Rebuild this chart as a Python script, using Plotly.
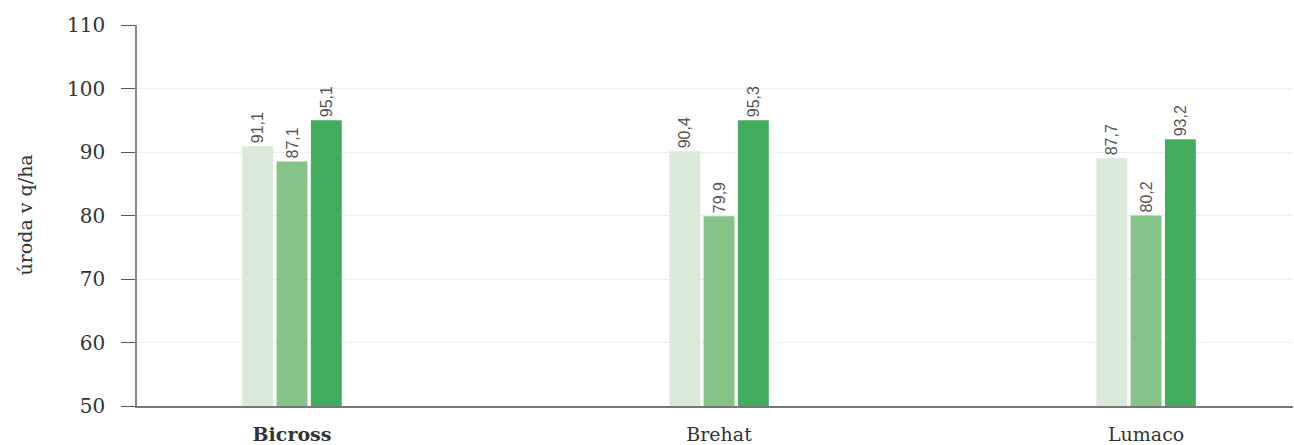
import plotly.graph_objects as go

categories = ["Bicross", "Brehat", "Lumaco"]
tick_labels = ["<b>Bicross</b>", "Brehat", "Lumaco"]

series_names = ["A", "B", "C"]
# bar heights as drawn in the picture
values_a = [90.9, 90.1, 89.0]
values_b = [88.5, 79.9, 80.0]
values_c = [95.0, 95.0, 92.0]
# value labels as printed above bars
labels_a = ["91,1", "90,4", "87,7"]
labels_b = ["87,1", "79,9", "80,2"]
labels_c = ["95,1", "95,3", "93,2"]

colors = ["#d9ebd8", "#86c388", "#43ad5e"]

y_ticks = [50, 60, 70, 80, 90, 100, 110]
y_title = "úroda v q/ha"

W, H = 1294, 445
ML, MR, MT, MB = 137, 1, 25, 39

fig = go.Figure()
for name, vals, labs, col in zip(series_names, [values_a, values_b, values_c],
                                 [labels_a, labels_b, labels_c], colors):
    fig.add_trace(go.Bar(
        x=categories, y=vals, name=name, text=labs,
        textposition="outside", textangle=-90, constraintext="none",
        cliponaxis=False,
        textfont=dict(family="Liberation Sans, Arial, sans-serif", size=16, color="#555"),
        marker=dict(color=col, line=dict(width=0)),
    ))

fig.update_layout(
    width=W, height=H,
    margin=dict(l=ML, r=MR, t=MT, b=MB, autoexpand=False),
    paper_bgcolor="white", plot_bgcolor="white",
    barmode="group", bargap=0.759, bargroupgap=0.1,
    showlegend=False,
    font=dict(family="DejaVu Serif, serif", size=20, color="#333"),
)
fig.update_xaxes(
    type="category", categoryorder="array", categoryarray=categories,
    tickvals=categories, ticktext=tick_labels,
    range=[-0.363, 2.344], automargin=False,
    showline=True, linecolor="#777", linewidth=1.5,
    showgrid=False, ticks="", ticklabelstandoff=10,
    tickfont=dict(size=19, color="#333"),
)
fig.update_yaxes(
    range=[50, 110], tickvals=y_ticks, automargin=False,
    showline=True, linecolor="#888", linewidth=1.5,
    ticks="outside", ticklen=14, tickcolor="#555", tickwidth=1,
    ticklabelstandoff=12,
    showgrid=True, gridcolor="#eeeeee", gridwidth=1,
    zeroline=False,
    tickfont=dict(size=20, color="#333"),
)
plot_w = W - ML - MR
fig.add_annotation(
    text=y_title, xref="paper", yref="paper",
    x=(24 - ML) / plot_w, y=0.5, xanchor="center", yanchor="middle",
    textangle=-90, showarrow=False,
    font=dict(family="DejaVu Serif, serif", size=19, color="#333"),
)

fig.write_html(
    "out.html",
    config={"displayModeBar": False},
    post_script="document.body.style.margin='0';document.body.style.overflow='hidden';",
)
